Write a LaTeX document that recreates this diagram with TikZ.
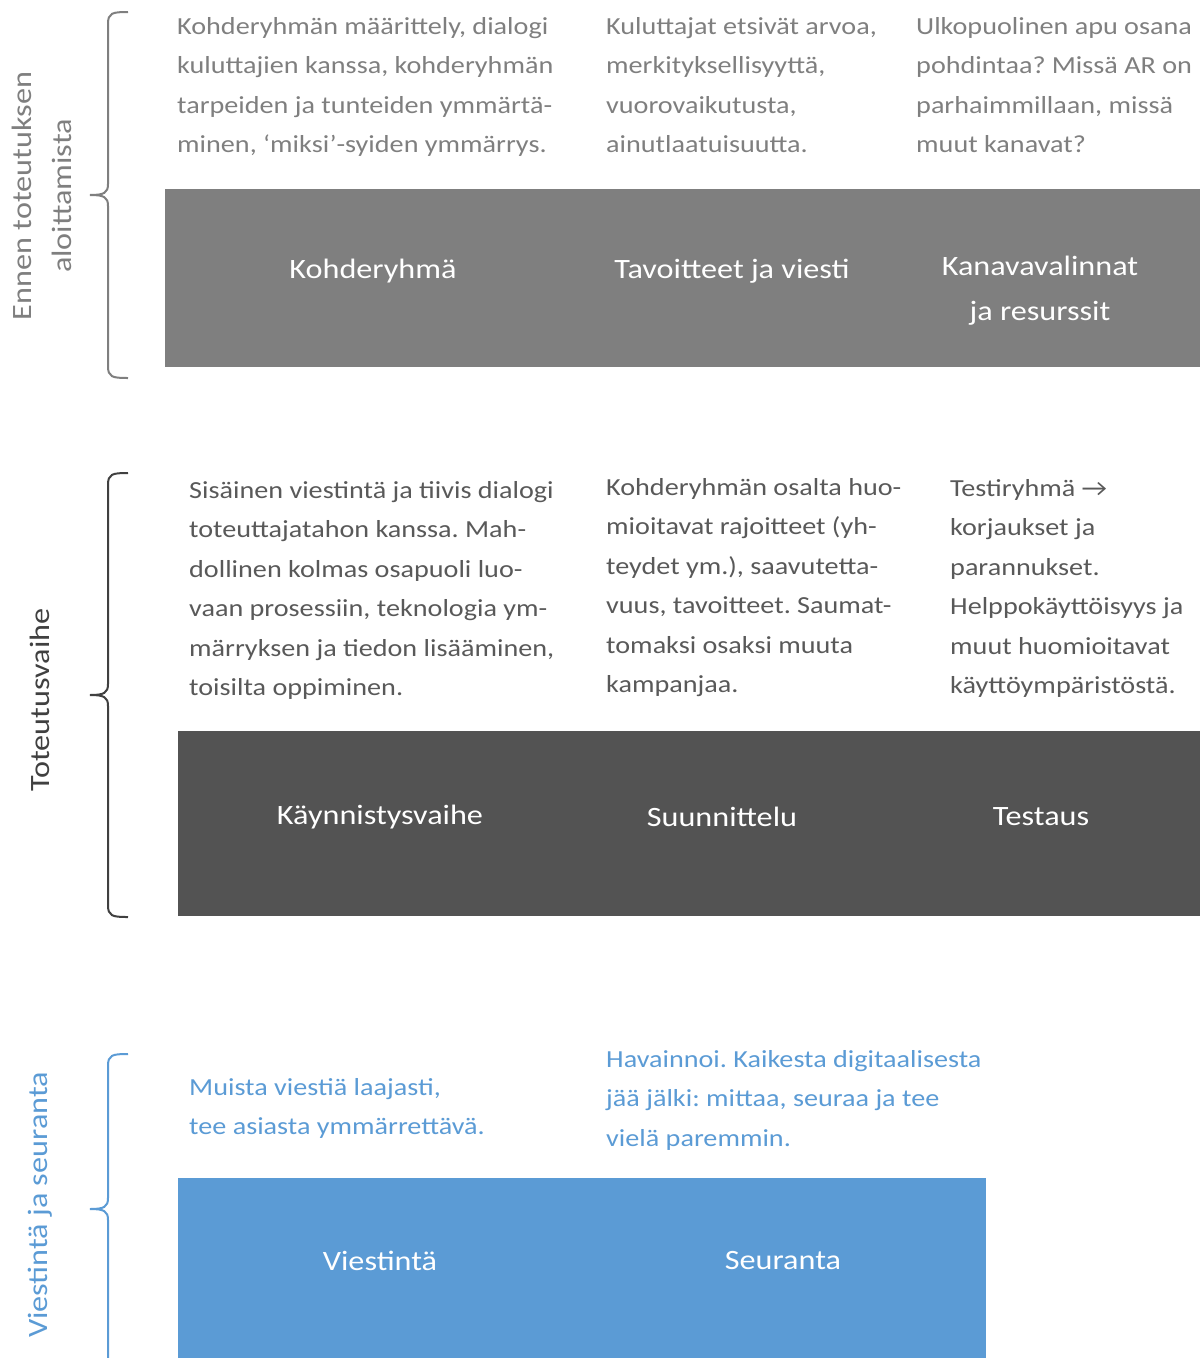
\documentclass[tikz,border=0pt]{standalone}
\usepackage{fontspec}
\setmainfont[FakeStretch=1.15]{Carlito}
\definecolor{midgray}{HTML}{7F7F7F}
\definecolor{darkbox}{HTML}{535353}
\definecolor{darktext}{HTML}{595959}
\definecolor{darklabel}{HTML}{404040}
\definecolor{accent}{HTML}{5B9BD5}
\tikzset{
  body/.style={anchor=north west, inner sep=0pt, align=left,
    font=\fontsize{24.5pt}{39.5pt}\selectfont\frenchspacing},
  boxlabel/.style={text=white, inner sep=0pt, align=center,
    font=\fontsize{28pt}{45pt}\selectfont},
  sidelabel/.style={rotate=90, inner sep=0pt, align=center,
    font=\fontsize{28pt}{40pt}\selectfont},
  bracket/.style={line width=2pt}
}
\begin{document}
\begin{tikzpicture}[x=1pt,y=-1pt]
\useasboundingbox (0,0) rectangle (1200,1358);

% ---- Phase 1: before implementation ----
\draw[bracket, midgray] (128,12) .. controls (112,12) and (108,13) .. (108,24)
  -- (108,184) .. controls (108,193) and (104,195) .. (90,195)
  .. controls (104,195) and (108,197) .. (108,206)
  -- (108,366) .. controls (108,377) and (112,378) .. (128,378);
\node[sidelabel, text=midgray] (l1) at (42,196) {Ennen toteutuksen\\aloittamista};

\fill[midgray] (165,189) rectangle (1200,367);
\node[boxlabel] (b11) at (373,271) {Kohderyhmä};
\node[boxlabel] (b12) at (732,271) {Tavoitteet ja viesti};
\node[boxlabel] (b13) at (1040,291) {Kanavavalinnat\\ja resurssit};

\node[body, text=midgray] (t11) at (177,17) {Kohderyhmän määrittely, dialogi\\kuluttajien kanssa, kohderyhmän\\tarpeiden ja tunteiden ymmärtä-\\minen, ‘miksi’-syiden ymmärrys.};
\node[body, text=midgray] (t12) at (606,17) {Kuluttajat etsivät arvoa,\\merkityksellisyyttä,\\vuorovaikutusta,\\ainutlaatuisuutta.};
\node[body, text=midgray] (t13) at (916,17) {Ulkopuolinen apu osana\\pohdintaa? Missä AR on\\parhaimmillaan, missä\\muut kanavat?};

% ---- Phase 2: implementation ----
\draw[bracket, darklabel] (128,473) .. controls (112,473) and (108,474) .. (108,485)
  -- (108,684) .. controls (108,693) and (104,695) .. (90,695)
  .. controls (104,695) and (108,697) .. (108,706)
  -- (108,905) .. controls (108,916) and (112,917) .. (128,917);
\node[sidelabel, text=darklabel] (l2) at (40,700) {Toteutusvaihe};

\fill[darkbox] (178,731) rectangle (1200,916);
\node[boxlabel] (b21) at (380,817) {Käynnistysvaihe};
\node[boxlabel] (b22) at (722,817) {Suunnittelu};
\node[boxlabel] (b23) at (1041,817) {Testaus};

\node[body, text=darktext] (t21) at (189,481) {Sisäinen viestintä ja tiivis dialogi\\toteuttajatahon kanssa. Mah-\\dollinen kolmas osapuoli luo-\\vaan prosessiin, teknologia ym-\\märryksen ja tiedon lisääminen,\\toisilta oppiminen.};
\node[body, text=darktext] (t22) at (606,478) {Kohderyhmän osalta huo-\\mioitavat rajoitteet (yh-\\teydet ym.), saavutetta-\\vuus, tavoitteet. Saumat-\\tomaksi osaksi muuta\\kampanjaa.};
\node[body, text=darktext] (t23) at (950,479) {Testiryhmä →\\korjaukset ja\\parannukset.\\Helppokäyttöisyys ja\\muut huomioitavat\\käyttöympäristöstä.};

% ---- Phase 3: communication and follow-up ----
\draw[bracket, accent] (128,1054) .. controls (112,1054) and (108,1055) .. (108,1066)
  -- (108,1198) .. controls (108,1207) and (104,1209) .. (90,1209)
  .. controls (104,1209) and (108,1211) .. (108,1220)
  -- (108,1360);
\node[sidelabel, text=accent] (l3) at (40,1205) {Viestintä ja seuranta};

\fill[accent] (178,1178) rectangle (986,1360);
\node[boxlabel] (b31) at (380,1261) {Viestintä};
\node[boxlabel] (b32) at (783,1261) {Seuranta};

\node[body, text=accent] (t31) at (189,1078) {Muista viestiä laajasti,\\tee asiasta ymmärrettävä.};
\node[body, text=accent] (t32) at (606,1050) {Havainnoi. Kaikesta digitaalisesta\\jää jälki: mittaa, seuraa ja tee\\vielä paremmin.};
\end{tikzpicture}
\end{document}
